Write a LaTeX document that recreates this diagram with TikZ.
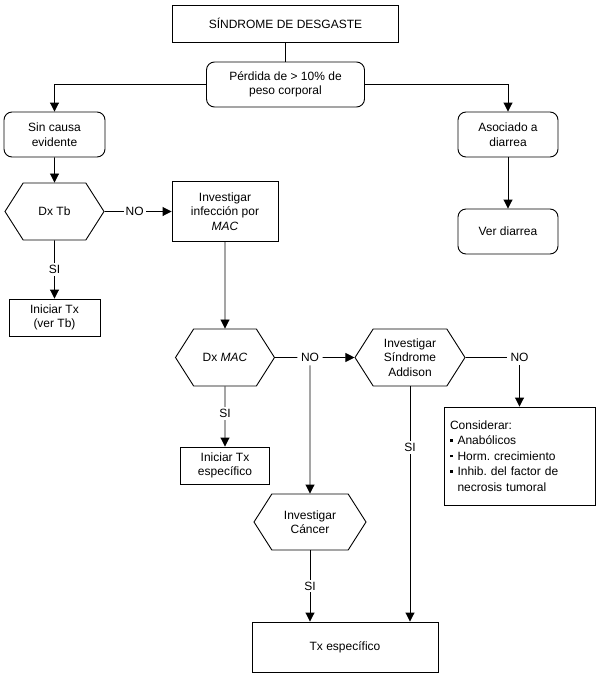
\documentclass[tikz,border=0pt]{standalone}
\usepackage{fontspec}
\setmainfont{Liberation Sans}
\frenchspacing
\usetikzlibrary{arrows.meta,shapes.symbols}

\begin{document}
\begin{tikzpicture}[
    x=1pt,y=-1pt,
    >={Triangle[length=9pt,width=9pt]},
    every node/.style={font=\fontsize{12}{14.5}\selectfont},
    box/.style={rectangle,draw,line width=0.9pt,align=center,inner sep=2pt},
    rbox/.style={box,rounded corners=8pt},
    hexa/.style={signal,signal to=west and east,signal pointer angle=115,
                 draw,line width=0.9pt,align=center,inner sep=1pt},
    arr/.style={->,line width=0.9pt},
    ln/.style={line width=0.9pt},
    lab/.style={fill=white,inner sep=2pt}
  ]
  \useasboundingbox (0,0) rectangle (600,675);

  \node[box,minimum width=226pt,minimum height=37pt] (title) at (285.5,23.5) {SÍNDROME DE DESGASTE};
  \node[rbox,minimum width=158pt,minimum height=45pt] (perdida) at (285.5,84.5) {Pérdida de > 10\% de\\peso corporal};
  \node[rbox,minimum width=101pt,minimum height=45pt] (sincausa) at (54.5,134.5) {Sin causa\\evidente};
  \node[rbox,minimum width=100pt,minimum height=45pt] (asociado) at (508,134.5) {Asociado a\\diarrea};
  \node[rbox,minimum width=100pt,minimum height=45pt] (verdiarrea) at (508,231.5) {Ver diarrea};

  \node[hexa,minimum width=99pt,minimum height=57pt] (dxtb) at (54.5,211.5) {Dx Tb};
  \node[box,minimum width=106pt,minimum height=60pt] (invmac) at (225,211.5) {Investigar\\infección por\\\textit{MAC}};
  \node[box,minimum width=91pt,minimum height=37pt] (initb) at (54.5,317.5) {Iniciar Tx\\(ver Tb)};

  \node[hexa,minimum width=99pt,minimum height=57pt] (dxmac) at (225,357.5) {Dx \textit{MAC}};
  \node (nomac) at (310,357.5) {NO};
  \node[hexa,minimum width=110pt,minimum height=57pt] (addison) at (410,357.5) {Investigar\\Síndrome\\Addison};
  \node (noadd) at (519.5,357.5) {NO};
  \node[box,minimum width=151pt,minimum height=98pt,text width=139pt,align=left,
        font=\fontsize{12}{15.5}\selectfont] (considerar) at (519.5,456)
    {Considerar:\\
     \rule[3pt]{2.5pt}{2.5pt}\hspace{5pt}Anabólicos\\
     \rule[3pt]{2.5pt}{2.5pt}\hspace{5pt}Horm. crecimiento\\
     \rule[3pt]{2.5pt}{2.5pt}\hspace{5pt}Inhib. del factor de\\
     \hspace{7.5pt}necrosis tumoral};
  \node[box,minimum width=89pt,minimum height=37pt] (inimac) at (225,465.5) {Iniciar Tx\\específico};

  \node[hexa,minimum width=112pt,minimum height=56pt] (cancer) at (310,522) {Investigar\\Cáncer};
  \node[box,minimum width=186pt,minimum height=50pt] (txesp) at (345,647) {Tx específico};

  % ramas superiores
  \draw[ln] (title) -- (perdida);
  \draw[arr] (perdida.west) -| (sincausa.north);
  \draw[arr] (perdida.east) -| (asociado.north);
  \draw[arr] (asociado) -- (verdiarrea);

  % rama sin causa
  \draw[arr] (sincausa) -- (dxtb);
  \draw[arr] (dxtb) -- node[lab,pos=0.45] {NO} (invmac);
  \draw[arr] (dxtb) -- node[lab] {SI} (initb);
  \draw[arr] (invmac) -- (dxmac);
  \draw[arr] (dxmac) -- node[lab,pos=0.45] {SI} (inimac);
  \draw[ln] (dxmac) -- (nomac);
  \draw[arr] (nomac) -- (addison);
  \draw[arr] (nomac) -- (cancer);
  \draw[arr] (cancer.south) -- node[lab] {SI} (cancer.south |- txesp.north);
  \draw[arr] (addison.south) -- node[lab,pos=0.26] {SI} (addison.south |- txesp.north);
  \draw[ln] (addison) -- (noadd);
  \draw[arr] (noadd) -- (considerar);
\end{tikzpicture}
\end{document}
